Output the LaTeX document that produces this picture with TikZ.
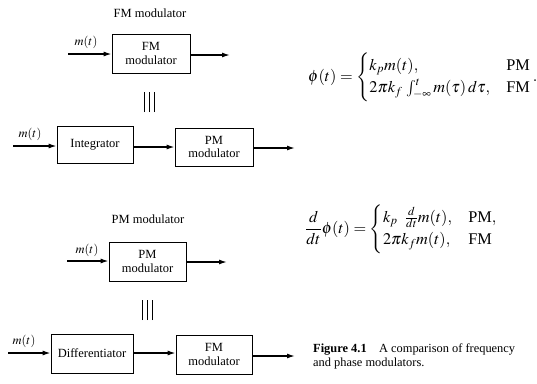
\documentclass[tikz,border=0pt]{standalone}
\usepackage{amsmath}
\usepackage{mathptmx}
\usepackage{fontspec}
\setmainfont{Liberation Serif}
\usetikzlibrary{arrows.meta}
\tikzset{
  blk/.style={draw, line width=0.7pt, align=center, inner sep=0pt,
    font=\fontsize{12.5}{13.5}\selectfont},
  sig/.style={line width=1.4pt, -{Latex[length=8pt,width=5pt]}},
  ttl/.style={font=\fontsize{12.5}{14}\selectfont},
  lbl/.style={font=\fontsize{12.5}{14}\selectfont, inner sep=1pt},
  eqn/.style={anchor=west, inner sep=0pt, font=\fontsize{16.3}{19}\selectfont},
  eqv/.style={line width=0.6pt}
}
\begin{document}
\begin{tikzpicture}[x=1pt,y=-1pt]
\useasboundingbox (0,0) rectangle (537,383);
% ---- FM modulator block
\node[ttl] (t1) at (150,13) {FM modulator};
\node[blk, minimum width=78pt, minimum height=39pt] (fm1) at (151,53.5) {FM\\modulator};
\coordinate (i1) at (68,54);
\coordinate (o1) at (230,55);
\draw[sig] (i1) -- (fm1.west |- i1);
\draw[sig] (fm1.east |- o1) -- (o1);
\node[lbl, anchor=south] (m1) at (86,50) {$m(t)$};
% equivalence
\coordinate (e1) at (149,102);
\draw[eqv] ([xshift=-5pt,yshift=-10pt]e1) -- ([xshift=-5pt,yshift=10pt]e1)
           ([yshift=-10pt]e1) -- ([yshift=10pt]e1)
           ([xshift=5pt,yshift=-10pt]e1) -- ([xshift=5pt,yshift=10pt]e1);
% integrator chain
\node[blk, minimum width=76pt, minimum height=37pt] (int) at (95,144.5) {Integrator};
\node[blk, minimum width=78pt, minimum height=38pt] (pm2) at (214,147) {PM\\modulator};
\coordinate (i2) at (13,146);
\coordinate (o2) at (295,148);
\draw[sig] (i2) -- (int.west |- i2);
\draw[sig] (int.east |- pm2.west) -- (pm2.west);
\draw[sig] (pm2.east |- o2) -- (o2);
\node[lbl, anchor=south] (m2) at (30,142) {$m(t)$};
% ---- PM modulator block
\node[ttl] (t2) at (148,219) {PM modulator};
\node[blk, minimum width=77pt, minimum height=39pt] (pm1) at (147.5,261.5) {PM\\modulator};
\coordinate (i3) at (67,261);
\coordinate (o3) at (227,262);
\draw[sig] (i3) -- (pm1.west |- i3);
\draw[sig] (pm1.east |- o3) -- (o3);
\node[lbl, anchor=south] (m3) at (87,258) {$m(t)$};
\coordinate (e2) at (147,310);
\draw[eqv] ([xshift=-5pt,yshift=-10pt]e2) -- ([xshift=-5pt,yshift=10pt]e2)
           ([yshift=-10pt]e2) -- ([yshift=10pt]e2)
           ([xshift=5pt,yshift=-10pt]e2) -- ([xshift=5pt,yshift=10pt]e2);
% differentiator chain
\node[blk, minimum width=82pt, minimum height=39pt] (dif) at (92,353.5) {Differentiator};
\node[blk, minimum width=76pt, minimum height=39pt] (fm2) at (214,354.5) {FM\\modulator};
\coordinate (i4) at (8,353);
\coordinate (o4) at (295,356);
\draw[sig] (i4) -- (dif.west |- i4);
\draw[sig] (dif.east |- i4) -- (fm2.west |- i4);
\draw[sig] (fm2.east |- o4) -- (o4);
\node[lbl, anchor=south] (m4) at (24,349) {$m(t)$};
% ---- equations
\node[eqn] (eq1) at (308,77) {$\phi(t)=\begin{cases} k_p m(t), & \text{PM}\\ 2\pi k_f\, \int_{-\infty}^{t} m(\tau)\,d\tau, & \text{FM}\end{cases}.$};
\node[eqn] (eq2) at (305,229) {$\dfrac{d}{dt}\phi(t)=\begin{cases} k_p\;\;\frac{d}{dt}m(t), & \text{PM},\\ 2\pi k_f m(t), & \text{FM}\end{cases}$};
% ---- caption
\node[anchor=north west, inner sep=0pt, align=left, font=\fontsize{12.4}{14}\selectfont] (cap) at (313,344)
  {\textbf{Figure 4.1}\quad A comparison of frequency\\and phase modulators.};
\end{tikzpicture}
\end{document}
